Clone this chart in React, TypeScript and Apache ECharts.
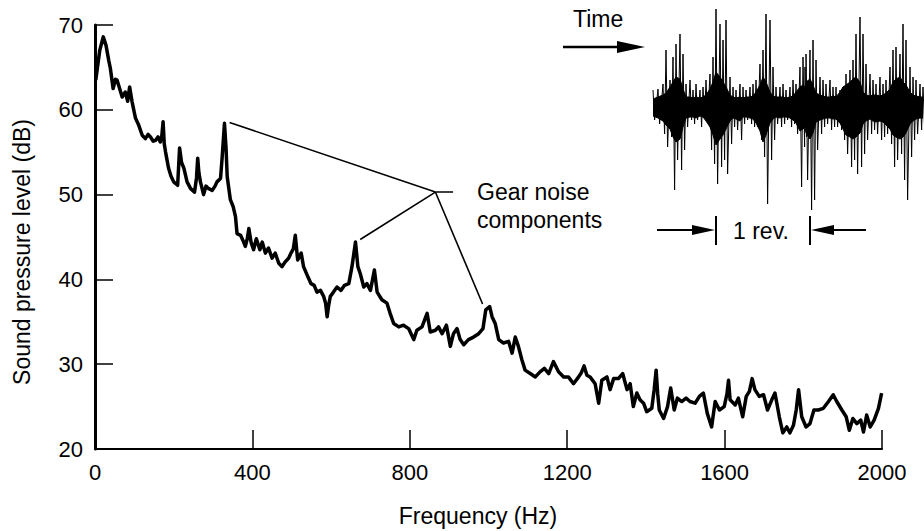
import React, { useEffect, useRef } from "react";
import * as echarts from "echarts";

const freqHz = [2,12,21,28,35,39,46,52,56,62,69,77,83,88,94,103,111,120,128,135,141,148,154,160,166,170,173,176,179,187,193,200,210,215,220,226,234,243,253,258,261,264,268,276,282,289,298,305,310,319,323,329,333,336,344,351,357,361,370,376,382,387,391,397,403,410,419,425,433,441,450,458,467,475,484,492,498,504,509,515,524,530,541,549,557,564,573,581,586,590,594,598,606,615,625,634,645,653,662,668,674,683,691,700,710,717,729,742,750,759,772,784,797,810,818,831,844,852,865,873,882,893,903,911,920,928,937,949,962,975,986,993,1003,1009,1017,1026,1038,1051,1060,1068,1076,1085,1093,1106,1119,1131,1142,1153,1165,1178,1191,1203,1216,1229,1236,1243,1250,1258,1271,1280,1288,1301,1309,1318,1330,1341,1352,1360,1368,1377,1385,1394,1402,1415,1421,1426,1430,1434,1445,1455,1463,1472,1480,1491,1502,1512,1525,1536,1546,1556,1567,1576,1587,1599,1606,1610,1614,1627,1635,1646,1655,1663,1670,1677,1688,1699,1709,1720,1728,1739,1748,1758,1766,1775,1782,1788,1796,1807,1817,1827,1838,1851,1864,1876,1885,1898,1909,1917,1926,1936,1946,1953,1961,1970,1980,1991,1999];
const splDb = [63.5,67.0,68.6,67.6,65.8,64.9,62.5,63.6,63.5,62.6,61.5,62.1,61.0,62.7,61.0,59.0,58.2,57.0,56.6,57.1,56.8,56.3,56.4,56.8,56.2,57.0,58.6,56.0,55.1,53.1,52.2,51.5,51.1,55.5,53.8,53.1,51.5,50.7,50.3,52.0,54.3,52.6,51.5,50.0,51.0,50.7,50.5,51.0,51.5,51.9,54.3,58.4,55.5,52.1,49.4,48.6,47.4,45.4,45.2,44.6,43.9,44.8,46.0,44.3,43.5,44.8,43.5,44.4,43.1,43.7,42.5,43.1,41.9,41.5,42.1,42.5,43.1,43.6,45.2,42.3,43.1,41.5,40.3,39.5,39.3,38.5,38.7,38.0,37.2,35.6,37.0,38.0,38.5,39.1,38.7,39.3,39.5,41.5,44.4,41.5,40.7,39.1,39.5,38.7,41.1,38.5,37.6,37.2,36.0,34.8,34.4,34.6,34.2,32.9,34.0,34.4,36.0,33.8,34.0,34.4,33.6,34.6,32.1,33.6,34.2,32.9,32.3,32.9,33.2,33.6,34.2,36.4,36.8,35.6,34.8,32.9,32.5,32.7,31.3,33.2,32.1,30.5,29.3,28.9,28.5,29.1,29.5,28.9,30.3,29.1,28.5,28.5,27.7,28.5,29.0,29.8,28.7,28.5,27.7,25.4,28.1,28.5,27.0,28.3,28.3,28.9,27.0,27.7,25.0,26.6,25.8,25.4,24.4,24.8,27.0,29.3,26.5,24.6,23.6,25.0,27.2,24.6,26.0,25.6,26.0,25.6,25.4,26.2,26.6,24.2,22.6,25.6,24.6,25.0,26.5,28.1,25.8,25.2,26.0,23.8,26.2,26.8,28.3,27.0,26.2,26.4,24.6,25.8,26.6,23.8,21.9,22.6,21.9,22.8,24.6,27.0,23.8,22.6,23.0,24.6,24.6,24.8,25.6,26.4,25.6,24.6,23.8,22.2,23.6,23.0,23.4,22.0,24.0,22.6,23.4,24.8,26.6];

const xTicks = [0, 400, 800, 1200, 1600, 2000];
const yTicks = [20, 30, 40, 50, 60, 70];

// annotation leader lines (Hz, dB)
const leaderHub: [number, number] = [865, 50.3];
const leaderTargets: [number, number][] = [[342, 58.5], [674, 44.7], [985, 37.1]];
const leaderStub: [number, number] = [910, 50.3];

// inset time signal (px offsets from centre line)
const waveT = [0,5,10,13,17,20,23,27,30,33,37,40,43,47,50,53,57,60,63,67,70,73,77,80,83,87,90,93,97,100,103,107,110,113,117,120,123,127,130,133,137,140,143,147,150,152,153,157,160,163,167,170,173,177,180,183,187,190,193,197,200,203,207,210,213,217,220,223,227,230,233,237,240,243,247,250,253,257,260,263,267,270];
const waveHi = [17,18,23,57,27,50,63,73,53,23,27,17,23,17,20,27,33,50,98,83,67,87,30,20,17,23,20,17,20,23,27,43,57,93,87,40,20,20,23,17,20,27,23,40,50,40,53,57,67,47,30,27,23,27,20,20,17,20,33,37,47,73,90,73,43,33,27,23,30,23,27,40,57,60,53,83,67,40,30,27,23,20];
const waveLo = [-13,-17,-27,-40,-30,-83,-53,-63,-43,-20,-13,-17,-13,-20,-10,-13,-43,-57,-77,-60,-53,-67,-37,-20,-23,-33,-17,-13,-17,-20,-20,-33,-50,-97,-53,-33,-17,-20,-17,-13,-20,-17,-27,-80,-40,-30,-73,-103,-93,-43,-27,-20,-17,-23,-20,-20,-23,-33,-47,-60,-53,-67,-60,-47,-33,-27,-23,-27,-33,-30,-27,-37,-60,-53,-47,-73,-93,-50,-33,-27,-23,-20];
const coreHi = [8,10,12,14,20,25,30,28,18,10,10,9,10,9,10,12,18,25,35,30,25,20,12,10,9,10,9,10,10,11,15,22,30,25,15,11,10,10,10,9,10,11,15,20,22,20,25,28,22,14,12,11,10,10,11,10,15,20,22,25,28,30,25,15,12,11,12,12,11,12,14,18,25,28,30,25,22,15,12,11,10,10];
const coreLo = [-9,-11,-14,-18,-22,-30,-35,-32,-20,-11,-10,-10,-11,-9,-10,-14,-20,-28,-38,-32,-28,-22,-14,-11,-12,-14,-10,-10,-11,-12,-16,-24,-35,-28,-16,-12,-10,-11,-10,-10,-11,-13,-16,-24,-22,-20,-26,-32,-26,-15,-13,-12,-11,-11,-12,-12,-16,-22,-28,-30,-32,-30,-26,-17,-14,-12,-14,-15,-14,-15,-18,-22,-28,-30,-32,-30,-26,-17,-14,-12,-11,-11];

const FONT = "Liberation Sans";

export default function App() {
  const ref = useRef<HTMLDivElement>(null);
  useEffect(() => {
    if (!ref.current) return;
    const chart = echarts.init(ref.current, undefined, { renderer: "svg" });
    const mainData = freqHz.map((f, i) => [f, splDb[i]]);
    const wave: number[][] = [];
    waveT.forEach((t, i) => {
      wave.push([t, waveHi[i]]);
      wave.push([t + 1.6, waveLo[i]]);
    });
    const coreUp = waveT.map((t, i) => [t, coreHi[i]]);
    const coreDown = waveT.map((t, i) => [t, coreLo[i]]);
    const leaderSeries = leaderTargets.map((p) => ({
      type: "line",
      xAxisIndex: 0,
      yAxisIndex: 0,
      data: [leaderHub, p],
      symbol: "none",
      lineStyle: { color: "#000", width: 1.6 },
      silent: true,
      z: 3,
    }));
    const insetArea = (d: number[][]) => ({
      type: "line",
      xAxisIndex: 1,
      yAxisIndex: 1,
      data: d,
      symbol: "none",
      lineStyle: { color: "#000", width: 1 },
      areaStyle: { color: "#000", opacity: 1, origin: 0 },
      silent: true,
      z: 2,
    });
    chart.setOption({
      animation: false,
      backgroundColor: "#fff",
      textStyle: { fontFamily: FONT },
      grid: [
        { left: 95, right: 42, top: 25, bottom: 82 },
        { left: 653, width: 271, top: 7, height: 210 },
      ],
      xAxis: [
        {
          type: "value",
          gridIndex: 0,
          min: 0,
          max: 2000,
          interval: 400,
          splitLine: { show: false },
          axisLine: { show: true, onZero: false, lineStyle: { color: "#000", width: 2 } },
          axisTick: { show: true, inside: true, length: 19, lineStyle: { color: "#000", width: 1.5 } },
          axisLabel: {
            color: "#000",
            fontSize: 22,
            fontFamily: FONT,
            margin: 12,
            customValues: xTicks,
            formatter: (v: number) => String(v),
          },
        },
        { type: "value", gridIndex: 1, min: 0, max: 271, show: false },
      ],
      yAxis: [
        {
          type: "value",
          gridIndex: 0,
          min: 20,
          max: 70,
          interval: 10,
          splitLine: { show: false },
          axisLine: { show: true, onZero: false, lineStyle: { color: "#000", width: 3 } },
          axisTick: { show: true, inside: true, length: 18, lineStyle: { color: "#000", width: 1.5 } },
          axisLabel: {
            color: "#000",
            fontSize: 22,
            fontFamily: FONT,
            margin: 12,
            customValues: yTicks,
            formatter: (v: number) => String(v),
          },
        },
        { type: "value", gridIndex: 1, min: -110, max: 100, show: false },
      ],
      series: [
        {
          type: "line",
          xAxisIndex: 0,
          yAxisIndex: 0,
          data: mainData,
          symbol: "none",
          lineStyle: { color: "#000", width: 3.5, join: "round" },
          z: 4,
        },
        ...leaderSeries,
        {
          type: "line",
          xAxisIndex: 0,
          yAxisIndex: 0,
          data: [leaderHub, leaderStub],
          symbol: "none",
          lineStyle: { color: "#000", width: 1.6 },
          silent: true,
          z: 3,
        },
        insetArea(coreUp),
        insetArea(coreDown),
        {
          type: "line",
          xAxisIndex: 1,
          yAxisIndex: 1,
          data: wave,
          symbol: "none",
          lineStyle: { color: "#000", width: 1 },
          silent: true,
          z: 2,
        },
      ],
      graphic: [
        {
          type: "text",
          left: 477,
          top: 180,
          style: { text: "Gear noise", fontSize: 23, fontFamily: FONT, fill: "#000" },
        },
        {
          type: "text",
          left: 477,
          top: 208,
          style: { text: "components", fontSize: 23, fontFamily: FONT, fill: "#000" },
        },
        {
          type: "text",
          x: 22,
          y: 252,
          rotation: Math.PI / 2,
          style: {
            text: "Sound pressure level (dB)",
            fontSize: 23,
            fontFamily: FONT,
            fill: "#000",
            align: "center",
            verticalAlign: "middle",
          },
        },
        {
          type: "text",
          x: 478,
          y: 516,
          style: {
            text: "Frequency (Hz)",
            fontSize: 23,
            fontFamily: FONT,
            fill: "#000",
            align: "center",
            verticalAlign: "middle",
          },
        },
        {
          type: "text",
          x: 573,
          y: 19,
          style: { text: "Time", fontSize: 23, fontFamily: FONT, fill: "#000", verticalAlign: "middle" },
        },
        { type: "line", shape: { x1: 563, y1: 47, x2: 625, y2: 47 }, style: { stroke: "#000", lineWidth: 2.5 } },
        { type: "polygon", shape: { points: [[617, 41], [645, 47], [617, 53]] }, style: { fill: "#000" } },
        { type: "line", shape: { x1: 657, y1: 230, x2: 700, y2: 230 }, style: { stroke: "#000", lineWidth: 2 } },
        { type: "polygon", shape: { points: [[692, 225], [715, 230], [692, 235]] }, style: { fill: "#000" } },
        { type: "line", shape: { x1: 716, y1: 216, x2: 716, y2: 245 }, style: { stroke: "#000", lineWidth: 2 } },
        { type: "line", shape: { x1: 810, y1: 216, x2: 810, y2: 245 }, style: { stroke: "#000", lineWidth: 2 } },
        { type: "polygon", shape: { points: [[834, 225], [811, 230], [834, 235]] }, style: { fill: "#000" } },
        { type: "line", shape: { x1: 828, y1: 230, x2: 866, y2: 230 }, style: { stroke: "#000", lineWidth: 2 } },
        {
          type: "text",
          x: 733,
          y: 231,
          style: { text: "1 rev.", fontSize: 23, fontFamily: FONT, fill: "#000", verticalAlign: "middle" },
        },
      ],
    });
    return () => chart.dispose();
  }, []);
  return <div ref={ref} style={{ width: 924, height: 531, position: "absolute", left: 0, top: 0 }} />;
}
